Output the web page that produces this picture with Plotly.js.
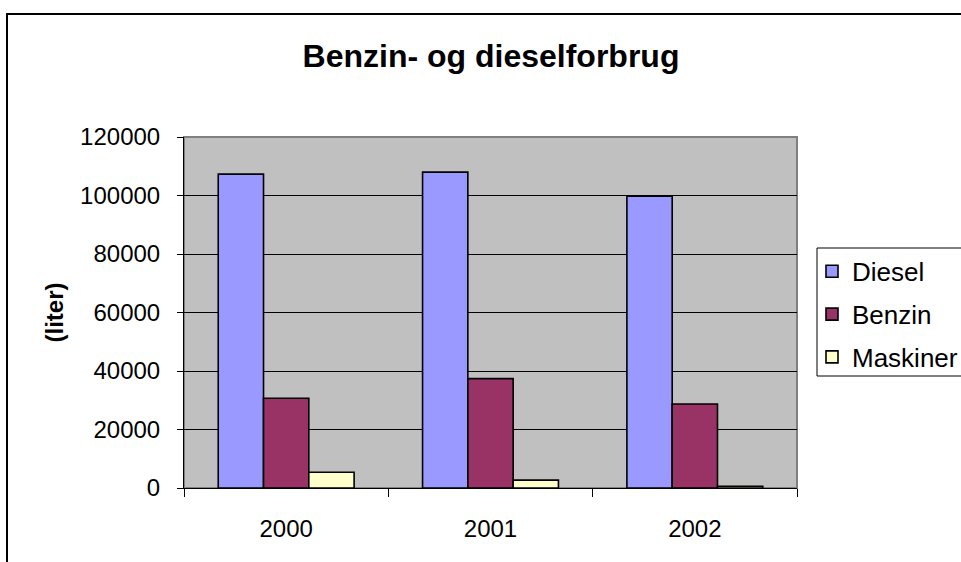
<!DOCTYPE html>
<html>
<head>
<meta charset="utf-8">
<script src="https://cdn.plot.ly/plotly-3.0.1.min.js"></script>
<style>
  html, body { margin: 0; padding: 0; background: #ffffff; overflow: hidden; }
  #chart { width: 961px; height: 562px; }
</style>
</head>
<body>
<div id="chart"></div>
<script>
const years = ['2000', '2001', '2002'];
const seriesNames = ['Diesel', 'Benzin', 'Maskiner'];
const diesel = [107300, 108000, 99800];
const benzin = [30700, 37400, 28700];
const maskiner = [5400, 2700, 600];
const seriesColors = ['#9999ff', '#993366', '#ffffcc'];
const yTickValues = [0, 20000, 40000, 60000, 80000, 100000, 120000];

const seriesValues = [diesel, benzin, maskiner];
const traces = seriesValues.map((vals, i) => ({
  type: 'bar',
  name: seriesNames[i],
  x: years,
  y: vals,
  legendgroup: 'g' + i,
  marker: { color: seriesColors[i], line: { color: '#000000', width: 1.6 } },
  hoverinfo: 'x+y+name'
}));

const layout = {
  width: 961,
  height: 562,
  margin: { l: 184, r: 164, t: 137, b: 74, pad: 0, autoexpand: false },
  paper_bgcolor: '#ffffff',
  plot_bgcolor: '#c0c0c0',
  font: { family: 'Liberation Sans, Arial, sans-serif', color: '#000000', size: 24 },
  title: {
    text: '<b>Benzin- og dieselforbrug</b>',
    font: { size: 32, color: '#000000', family: 'Liberation Sans, Arial, sans-serif' },
    x: 491 / 961, xanchor: 'center',
    y: 1 - 56 / 562, yanchor: 'middle',
    xref: 'container', yref: 'container'
  },
  barmode: 'group',
  bargap: 0.335,
  bargroupgap: 0,
  showlegend: true,
  legend: {
    x: (812 - 184) / 613, xanchor: 'left',
    y: 0.684, yanchor: 'top',
    bgcolor: 'rgba(0,0,0,0)',
    borderwidth: 0,
    font: { size: 26, color: '#000000' },
    traceorder: 'grouped',
    tracegroupgap: 6
  },
  xaxis: {
    type: 'category',
    tickson: 'boundaries',
    ticks: 'outside',
    ticklen: 8,
    tickwidth: 1,
    tickcolor: '#000000',
    showline: true,
    linecolor: '#000000',
    linewidth: 1,
    showgrid: false,
    zeroline: false,
    tickfont: { size: 24 },
    ticklabelstandoff: 19,
    fixedrange: true
  },
  yaxis: {
    range: [0, 120000],
    tickvals: yTickValues,
    ticktext: yTickValues.map(v => String(v)),
    ticks: 'outside',
    ticklen: 6,
    tickwidth: 1,
    tickcolor: '#000000',
    showline: true,
    linecolor: '#000000',
    linewidth: 1,
    showgrid: true,
    gridcolor: '#000000',
    gridwidth: 1,
    zeroline: false,
    tickfont: { size: 24 },
    ticklabelstandoff: 12,
    title: {
      text: '<b>(liter)</b>',
      font: { size: 24, color: '#000000' },
      standoff: 9
    },
    fixedrange: true
  },
  shapes: [
    {
      type: 'rect', xref: 'paper', yref: 'paper', layer: 'below',
      x0: 0, x1: 1, y0: 0, y1: 1,
      line: { color: '#808080', width: 2 }
    },
    {
      type: 'rect', xref: 'paper', yref: 'paper', layer: 'above',
      x0: (7 - 184) / 613, x1: 1.5, y0: -1, y1: (488 - 14) / 351,
      line: { color: '#000000', width: 2 }
    },
    {
      type: 'rect', xref: 'paper', yref: 'paper', layer: 'above',
      x0: (817 - 184) / 613, x1: 1.5, y0: (488 - 376) / 351, y1: (488 - 248) / 351,
      line: { color: '#000000', width: 1 }
    }
  ]
};

Plotly.newPlot('chart', traces, layout, { displayModeBar: false, staticPlot: true });
</script>
</body>
</html>
